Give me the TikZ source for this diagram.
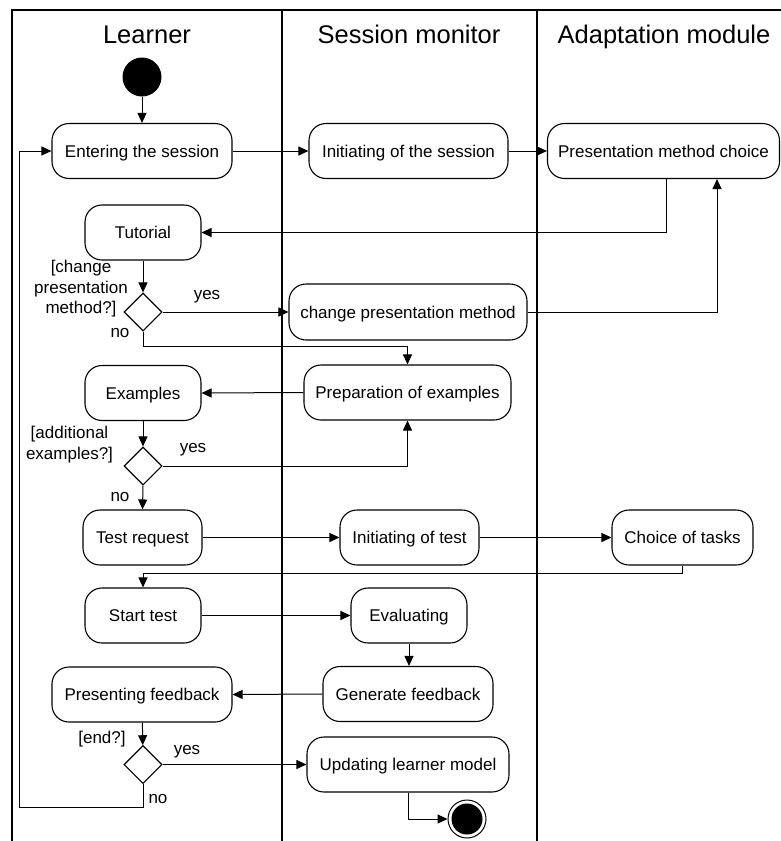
\documentclass[tikz,border=0pt]{standalone}
\usepackage{fontspec}
\setmainfont{Liberation Sans}
\usetikzlibrary{arrows.meta,shapes.geometric}
\begin{document}
\begin{tikzpicture}[x=1pt,y=-1pt,
  act/.style={draw, rounded corners=17pt, minimum height=55pt, inner sep=0pt, text height=12.4pt, text depth=0.4pt, line width=1.1pt, font=\fontsize{17}{20.5}\selectfont},
  arr/.style={-{Triangle[length=10pt,width=9pt]}, line width=1pt},
  dec/.style={diamond, draw, minimum width=38pt, minimum height=38pt, inner sep=0pt, line width=1.1pt},
  lbl/.style={font=\fontsize{17}{20.5}\selectfont, inner sep=0pt, align=center},
  lane/.style={line width=1.3pt},
  lanetitle/.style={font=\fontsize{25.5}{30}\selectfont, anchor=base, inner sep=0pt}]
\useasboundingbox (0,0) rectangle (781,841);
% swimlanes
\draw[lane] (12,841) -- (12,10) -- (785,10);
\draw[lane] (282,10) -- (282,845);
\draw[lane] (537,10) -- (537,845);
\node[lanetitle] (t1) at (147,43) {Learner};
\node[lanetitle] (t2) at (409,43) {Session monitor};
\node[lanetitle] (t3) at (664,43) {Adaptation module};
% nodes
\node[circle, fill=black, minimum size=39pt, inner sep=0pt] (init) at (142,77) {};
\node[act, minimum width=180pt] (enter) at (142,151) {Entering the session};
\node[act, minimum width=199pt] (initS) at (408.5,151) {Initiating of the session};
\node[act, minimum width=232pt] (pmc) at (663.5,151) {Presentation method choice};
\node[act, minimum width=116pt] (tut) at (143,232.5) {Tutorial};
\node[dec] (d1) at (143,312) {};
\node[act, minimum width=238pt, minimum height=56pt] (cpm) at (408,312) {change presentation method};
\node[act, minimum width=207pt] (prep) at (407.5,392.5) {Preparation of examples};
\node[act, minimum width=116pt] (ex) at (143,393) {Examples};
\node[dec] (d2) at (143,466) {};
\node[act, minimum width=119pt] (treq) at (142.5,537.5) {Test request};
\node[act, minimum width=139pt] (itest) at (409.5,537.5) {Initiating of test};
\node[act, minimum width=141pt] (tasks) at (682.5,537.5) {Choice of tasks};
\node[act, minimum width=116pt] (start) at (143,615.5) {Start test};
\node[act, minimum width=116pt] (eval) at (409,615.5) {Evaluating};
\node[act, minimum width=170pt] (gen) at (408,694) {Generate feedback};
\node[act, minimum width=180pt] (pres) at (142,694.5) {Presenting feedback};
\node[dec] (d3) at (143,764.5) {};
\node[act, minimum width=202pt] (upd) at (408,764.5) {Updating learner model};
\node[circle, draw, line width=1pt, minimum size=38pt, inner sep=0pt] (final) at (467,819) {};
\fill (final.center) circle (15.5pt);
\coordinate (loopc) at (19,807);
% labels
\node[lbl] (q1) at (81,289) {[change\\presentation\\method?]};
\node[lbl] (y1) at (207,297) {yes};
\node[lbl] (n1) at (120,333) {no};
\node[lbl] (q2) at (69.5,444.5) {[additional\\examples?]};
\node[lbl] (y2) at (193,450) {yes};
\node[lbl] (n2) at (120,497) {no};
\node[lbl] (q3) at (102,739) {[end?]};
\node[lbl] (y3) at (187,752) {yes};
\node[lbl] (n3) at (158,799) {no};
% connectors
\draw[arr] (init) -- (enter);
\draw[arr] (enter) -- (initS);
\draw[arr] (initS) -- (pmc);
\draw[arr] ([xshift=2.5pt]pmc.south) |- (tut.east);
\draw[arr] (tut) -- (d1);
\draw[arr] (d1.east) -- (cpm.west);
\draw[arr] (cpm.east) -| ([xshift=53.5pt]pmc.south);
\draw[arr] (d1.south) -- ++(0,15) -| (prep.north);
\draw[arr] (prep.west) -- (ex.east);
\draw[arr] (ex) -- (d2);
\draw[arr] (d2.east) -| (prep.south);
\draw[arr] (d2.south) -- (treq.north);
\draw[arr] (treq) -- (itest);
\draw[arr] (itest) -- (tasks);
\draw[arr] (tasks.south) -- ++(0,8) -| (start.north);
\draw[arr] (start) -- (eval);
\draw[arr] (eval.south) -- (eval.south |- gen.north);
\draw[arr] (gen.west) -- (pres.east);
\draw[arr] (pres) -- (d3);
\draw[arr] (d3.east) -- (upd.west);
\draw[arr] (d3.south) |- (loopc) |- (enter.west);
\draw[arr] (upd.south) |- (final.west);
\end{tikzpicture}
\end{document}
